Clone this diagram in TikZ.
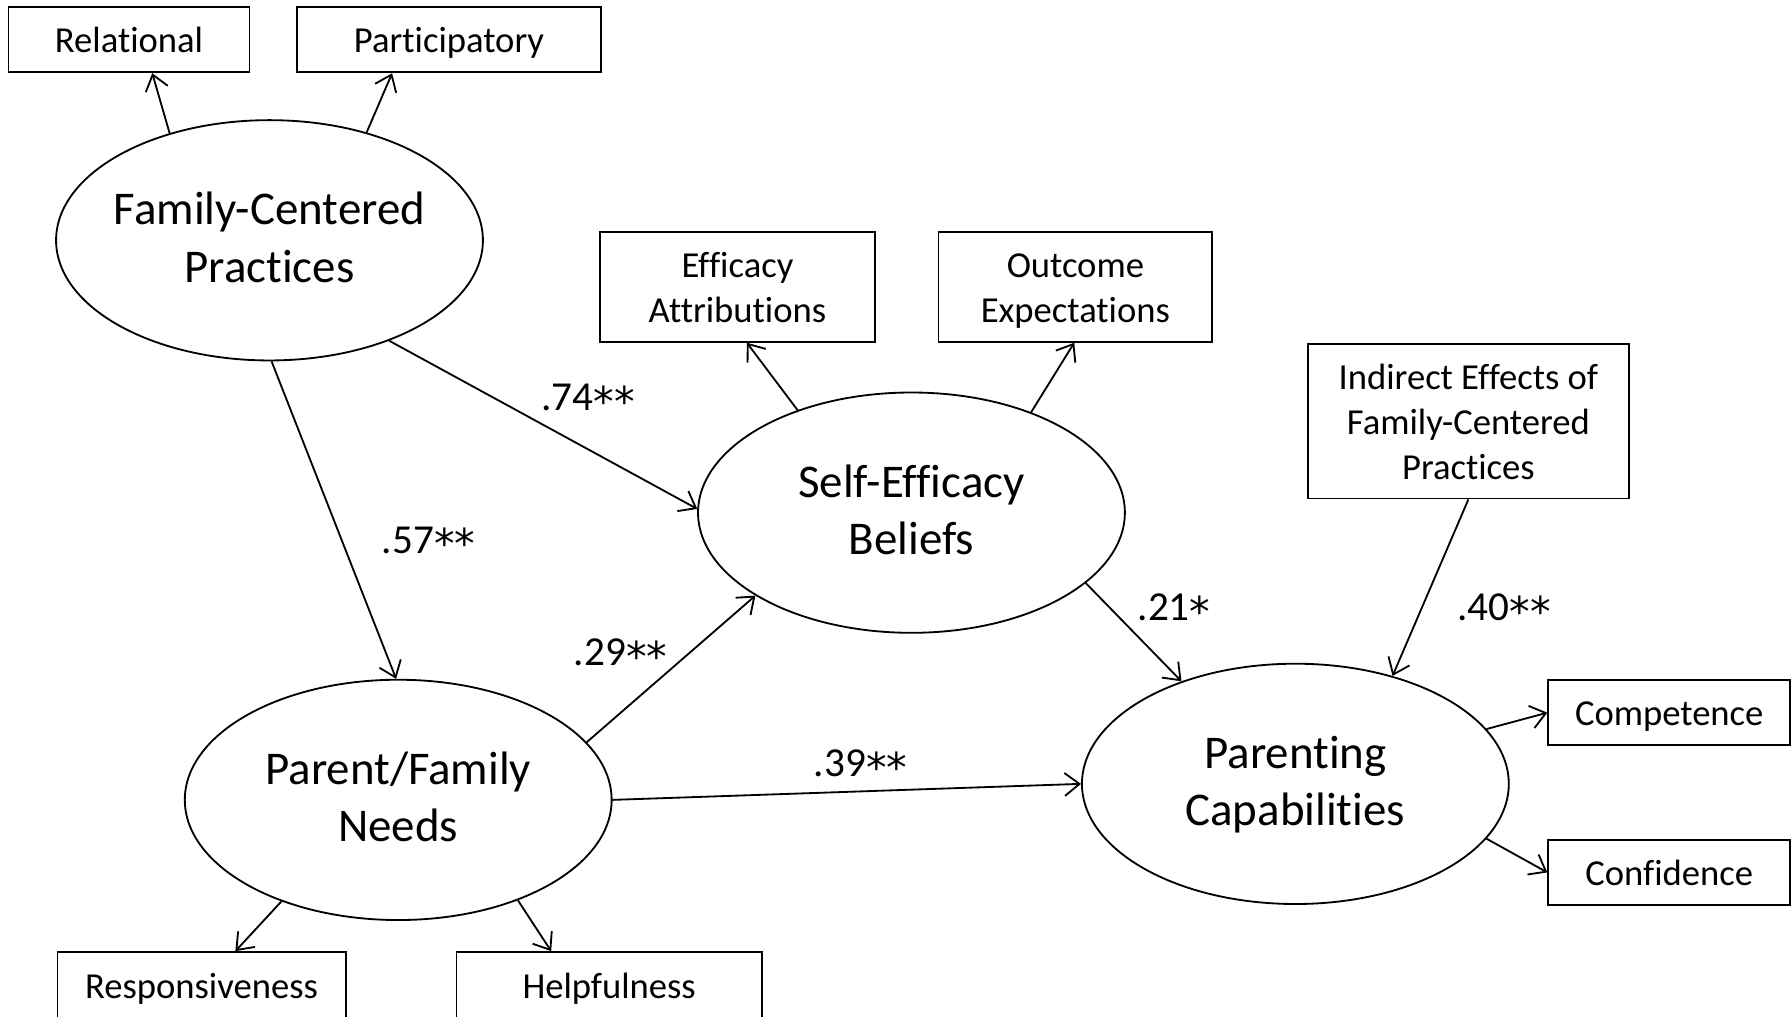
\documentclass[tikz,border=0pt]{standalone}
\usepackage{fontspec}
\setmainfont{Carlito}[Ligatures=NoCommon,RawFeature=-liga,RawFeature=-clig,RawFeature=-calt]
\newfontfamily\astfont{DejaVu Sans}
\usetikzlibrary{arrows.meta,shapes.geometric,calc}
\newcommand\bstrut{\rule[-8pt]{0pt}{39pt}}
\newcommand\estrut{\rule[-13.5pt]{0pt}{50pt}}
\newcommand\bigast{\smash{\raisebox{-0.14em}{\astfont *}}}
\begin{document}
\begin{tikzpicture}[x=1pt,y=-1pt,
  latent/.style={ellipse,draw,line width=1.6pt,minimum width=373pt,minimum height=210pt,inner ysep=0pt,inner xsep=-30pt,align=center,font=\fontsize{41}{50}\selectfont},
  obs/.style={rectangle,draw,line width=1.6pt,inner sep=0pt,align=center,font=\fontsize{32}{39}\selectfont},
  link/.style={line width=1.6pt,-{Straight Barb[length=13pt,width=20pt,line width=1.6pt]}},
  coef/.style={font=\fontsize{36}{40}\selectfont,inner sep=0pt}]
\useasboundingbox (0,0) rectangle (1566,888);
\clip (0,0) rectangle (1566,888);
% latent variables
\node[latent] (fcp) at (235.5,210) {\estrut Family-Centered\\\estrut Practices};
\node[latent] (pfn) at (348,699) {\estrut Parent/Family\\\estrut Needs};
\node[latent] (seb) at (796.5,448) {\estrut Self-Efficacy\\\estrut Beliefs};
\node[latent] (pc) at (1132,685) {\estrut Parenting\\\estrut Capabilities};
% observed boxes
\node[obs,minimum width=210.5pt,minimum height=56.8pt] (rel) at (112.75,34.8) {\bstrut Relational};
\node[obs,minimum width=265.9pt,minimum height=56.8pt] (par) at (392.35,34.8) {\bstrut Participatory};
\node[obs,minimum width=239.7pt,minimum height=96.2pt] (ea) at (644.45,250.6) {\bstrut Efficacy\\\bstrut Attributions};
\node[obs,minimum width=239.1pt,minimum height=96.2pt] (oe) at (939.75,250.6) {\bstrut Outcome\\\bstrut Expectations};
\node[obs,minimum width=281pt,minimum height=134.9pt] (ind) at (1283.2,368.15) {\bstrut Indirect Effects of\\\bstrut Family-Centered\\\bstrut Practices};
\node[obs,minimum width=211.4pt,minimum height=56.8pt] (comp) at (1458.7,622.8) {\bstrut Competence};
\node[obs,minimum width=211.4pt,minimum height=56.2pt] (conf) at (1458.7,762.4) {\bstrut Confidence};
\node[obs,minimum width=251.8pt,minimum height=58pt] (resp) at (176.1,861) {\bstrut Responsiveness};
\node[obs,minimum width=266.9pt,minimum height=58pt] (help) at (532.35,861) {\bstrut Helpfulness};
% connectors
\draw[link] (fcp.133.6) -- ($(rel.south)+(20.3,0)$);
\draw[link] (fcp.48.8) -- ($(par.south)+(-49.7,0)$);
\draw[link] (fcp.-40.3) -- (seb.179.3);
\draw[link] (fcp.-89.7) -- (pfn.91);
\draw[link] (pfn.17.1) -- (seb.208.8);
\draw[link] (pfn.0) -- (pc.180);
\draw[link] (seb.-22.9) -- (pc.138.1);
\draw[link] (ind.south) -- (pc.48.7);
\draw[link] (seb.138.3) -- ($(ea.south)+(8.2,0)$);
\draw[link] (seb.40.2) -- ($(oe.south)+(-1,0)$);
\draw[link] (pc.16.4) -- (comp.west);
\draw[link] (pc.-16.6) -- (conf.west);
\draw[link] (pfn.221.6) -- ($(resp.north)+(29.6,0)$);
\draw[link] (pfn.-40.4) -- ($(help.north)+(-50.7,0)$);
% coefficients
\node[coef] (c74) at (514,347.5) {.74\bigast\bigast};
\node[coef] (c57) at (374.5,472) {.57\bigast\bigast};
\node[coef] (c29) at (542.3,570.4) {.29\bigast\bigast};
\node[coef] (c39) at (752,667.3) {.39\bigast\bigast};
\node[coef] (c21) at (1026,531) {.21\bigast};
\node[coef] (c40) at (1314.3,531) {.40\bigast\bigast};
\end{tikzpicture}
\end{document}
